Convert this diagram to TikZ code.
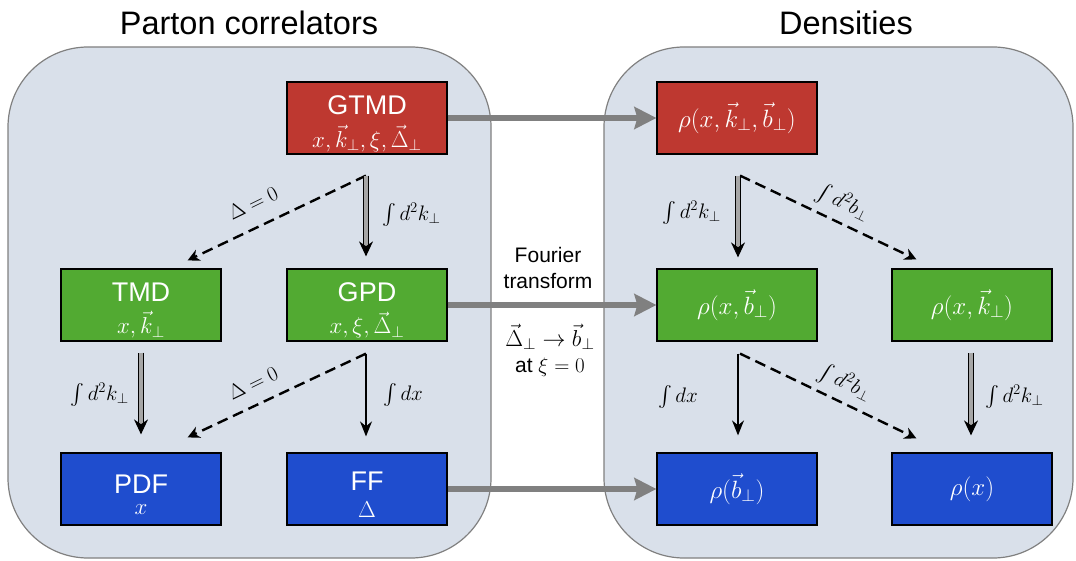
\RequirePackage{fix-cm}
\documentclass[tikz,border=0pt]{standalone}
\usepackage{exscale}
\usepackage[no-math]{fontspec}
\setsansfont{Liberation Sans}
\usetikzlibrary{arrows.meta,calc}
\definecolor{panel}{RGB}{217,224,234}
\definecolor{panelline}{RGB}{128,128,128}
\definecolor{bred}{RGB}{190,56,48}
\definecolor{bgreen}{RGB}{82,170,50}
\definecolor{bblue}{RGB}{31,77,206}
\definecolor{farrow}{RGB}{128,128,128}
\newcommand{\boxtitle}[2]{\sffamily\fontsize{27}{27}\selectfont\rule{0pt}{30pt}#1\\[9pt]\fontsize{23}{23}\selectfont #2}
\begin{document}
\begin{tikzpicture}[x=1pt,y=1pt,
  panelbox/.style={draw=panelline, fill=panel, line width=1.2pt, rounded corners=80pt},
  box/.style={draw=black, line width=1.2pt, minimum width=160pt, minimum height=72pt, inner sep=0pt, text=white, align=center},
  title/.style={font=\sffamily\fontsize{32.5}{36}\selectfont, inner sep=0pt},
  flow/.style={draw=farrow, line width=5.5pt, -{Stealth[length=22pt,width=22pt,inset=3pt]}},
  dbl/.style={draw=black, line width=1.3pt, double=gray!70, double distance=3.2pt, -{Stealth[length=15pt,width=14pt]}},
  sgl/.style={draw=black, line width=1.6pt, -{Stealth[length=15pt,width=12pt]}},
  dsh/.style={draw=black, line width=2.4pt, dash pattern=on 11pt off 6pt, -{Stealth[length=12pt,width=12pt]}},
  lab/.style={font=\fontsize{21}{24}\selectfont, inner sep=0pt},
  ftext/.style={font=\sffamily\fontsize{21}{26}\selectfont, align=center, inner sep=0pt},
]
\path[use as bounding box] (0,0) rectangle (1076,-561);
\draw[panelbox] (8,-47) rectangle (491,-558);
\draw[panelbox] (604,-47) rectangle (1073,-558);
\node[title] (t1) at (249,-23) {Parton correlators};
\node[title] (t2) at (846,-23) {Densities};

% left boxes
\node[box, fill=bred] (gtmd) at (367,-118) {\boxtitle{GTMD}{$x,\vec{k}_\perp,\xi,\vec{\Delta}_\perp$}};
\node[box, fill=bgreen] (tmd) at (141,-305) {\boxtitle{TMD}{$x,\vec{k}_\perp$}};
\node[box, fill=bgreen] (gpd) at (367,-305) {\boxtitle{GPD}{$x,\xi,\vec{\Delta}_\perp$}};
\node[box, fill=bblue] (pdf) at (141,-489) {\boxtitle{PDF}{$x$}};
\node[box, fill=bblue] (ff) at (367,-489) {\boxtitle{FF}{Δ}};

% right boxes
\node[box, fill=bred, font=\fontsize{25}{25}\selectfont] (r1) at (737,-118) {$\rho(x,\vec{k}_\perp,\vec{b}_\perp)$};
\node[box, fill=bgreen, font=\fontsize{25}{25}\selectfont] (r2) at (737,-305) {$\rho(x,\vec{b}_\perp)$};
\node[box, fill=bgreen, font=\fontsize{25}{25}\selectfont] (r3) at (972,-305) {$\rho(x,\vec{k}_\perp)$};
\node[box, fill=bblue, font=\fontsize{25}{25}\selectfont] (r4) at (737,-489) {$\rho(\vec{b}_\perp)$};
\node[box, fill=bblue, font=\fontsize{25}{25}\selectfont] (r5) at (972,-489) {$\rho(x)$};

% Fourier
\node[ftext] (ft) at (548,-268) {Fourier\\transform};
\node[font=\fontsize{23}{26}\selectfont, inner sep=0pt] (ft2) at (550,-337) {$\vec{\Delta}_\perp\to\vec{b}_\perp$};
\node[ftext] (ft3) at (550,-367) {at $\xi=0$};

\draw[flow] (gtmd.east) -- (r1.west);
\draw[flow] (gpd.east) -- (r2.west);
\draw[flow] (ff.east) -- (r4.west);

% coordinates
\coordinate (s1) at ($(gtmd.south)+(-1,-21)$);
\coordinate (e1) at ($(gpd.north)+(-1,12)$);
\coordinate (d1) at ($(tmd.north east)+(-34,8)$);
\coordinate (s2) at ($(gpd.south)+(-1,-12)$);
\coordinate (e2) at ($(ff.north)+(-1,16)$);
\coordinate (d2) at ($(pdf.north east)+(-34,15)$);
\coordinate (s3) at ($(tmd.south)+(0,-11)$);
\coordinate (e3) at ($(pdf.north)+(0,18)$);
\coordinate (s4) at ($(r1.south)+(1,-21)$);
\coordinate (e4) at ($(r2.north)+(1,11)$);
\coordinate (d4) at ($(r3.north west)+(25,9)$);
\coordinate (s5) at ($(r2.south)+(1,-12)$);
\coordinate (e5) at ($(r4.north)+(1,17)$);
\coordinate (d5) at ($(r5.north west)+(25,14)$);
\coordinate (s6) at ($(r3.south)+(-1,-11)$);
\coordinate (e6) at ($(r5.north)+(-1,17)$);

\draw[dsh] (s1) -- (d1);
\draw[dbl] (s1) -- (e1);
\draw[dsh] (s2) -- (d2);
\draw[sgl] (s2) -- (e2);
\draw[dbl] (s3) -- (e3);
\draw[dsh] ($(s4)+(2,0)$) -- (d4);
\draw[dbl] (s4) -- (e4);
\draw[dsh] ($(s5)+(2,0)$) -- (d5);
\draw[sgl] (s5) -- (e5);
\draw[dbl] (s6) -- (e6);

% labels
\node[lab, rotate=26] (l1) at (253,-203) {$\Delta=0$};
\node[lab, anchor=west] (l2) at (382,-215) {$\int d^2k_\perp$};
\node[lab, anchor=east] (l3) at (129,-395) {$\int d^2k_\perp$};
\node[lab, rotate=26] (l4) at (253,-383) {$\Delta=0$};
\node[lab, anchor=west] (l5) at (383,-395) {$\int dx$};
\node[lab, anchor=east] (l6) at (721,-213) {$\int d^2k_\perp$};
\node[lab, rotate=-26] (l7) at (843,-203) {$\int d^2b_\perp$};
\node[lab, anchor=east] (l8) at (698,-397) {$\int dx$};
\node[lab, rotate=-26] (l9) at (845,-383) {$\int d^2b_\perp$};
\node[lab, anchor=west] (l10) at (985,-397) {$\int d^2k_\perp$};
\end{tikzpicture}
\end{document}
